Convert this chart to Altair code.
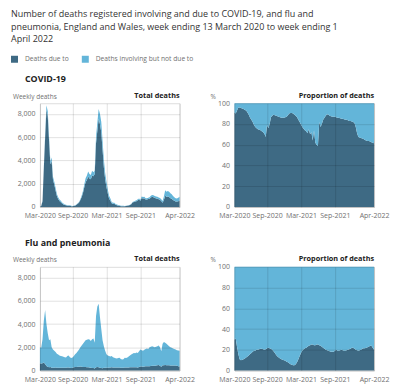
import altair as alt
import pandas as pd

# ---------------- data ----------------
first_week = "2020-03-13"          # week ending dates, weekly to 1 April 2022
tick_dates = [(2020, 3, 13), (2020, 9, 4), (2021, 3, 5), (2021, 9, 3), (2022, 4, 1)]
series_names = ["Deaths due to", "Deaths involving but not due to"]
series_colors = ["#3e6a84", "#63b5d9"]
sections = ["COVID-19", "Flu and pneumonia"]
panel_titles = ["Total deaths", "Proportion of deaths"]
axis_titles = ["Weekly deaths", "%"]

# COVID-19: weekly deaths involving COVID-19 (total) and % of them due to COVID-19
covid_total = [5, 103, 539, 3475, 6213, 8758, 8237, 6035, 3930, 4248,
               2589, 2166, 1653, 1114, 844, 652, 532, 393, 295, 217,
               193, 152, 139, 138, 101, 78, 99, 139, 215, 321,
               438, 670, 978, 1379, 1937, 2466, 2697, 3040, 2835, 2756,
               3120, 2986, 3144, 6057, 7245, 8433, 8009, 7320, 5691, 4079,
               2914, 2142, 1501, 963, 719, 438, 362, 362, 260, 209,
               165, 142, 107, 103, 98, 84, 103, 120, 145, 195,
               260, 418, 479, 536, 570, 660, 729, 611, 901, 851,
               871, 752, 749, 799, 840, 975, 1039, 1010, 949, 890,
               872, 819, 761, 662, 515, 900, 1438, 1316, 1364, 1305,
               1179, 1094, 943, 831, 759, 738, 800, 870]
covid_pct_due = [91, 90, 93, 96, 96, 95.5, 95, 94.5, 93.5, 93,
                 91, 89, 86, 84, 82, 79, 77, 76, 75, 74.5,
                 74, 73, 72, 70.5, 67.5, 79, 76, 80, 86.5, 88,
                 89, 88.5, 88, 87.5, 87, 86.5, 86, 86, 86, 86.5,
                 87, 88.5, 90, 90.5, 90.5, 90, 89, 88, 86.5, 84,
                 82, 79.5, 77, 75.5, 74, 73, 71, 75, 70, 72,
                 64, 74, 62, 60, 58.5, 82, 77, 80, 84, 86,
                 88, 89.5, 89, 88, 87.5, 87, 87, 87, 86.5, 86,
                 86, 85.5, 85, 85, 84.5, 84, 84, 83.5, 83, 83,
                 82.5, 82, 81, 77, 71, 67.5, 67, 66.5, 66, 65.5,
                 64.5, 64, 63.5, 63.5, 63, 62.5, 62, 61.5]

# Flu and pneumonia: weekly deaths involving flu/pneumonia and % due to it
flu_total = [2000, 1950, 2700, 4300, 5200, 4000, 3200, 2600, 2700, 2000,
             1800, 1700, 1600, 1450, 1380, 1300, 1250, 1220, 1180, 1150,
             1130, 1250, 1300, 1150, 1080, 1120, 1250, 1400, 1500, 1650,
             1800, 2000, 2150, 2300, 2450, 2600, 2650, 2700, 2680, 2550,
             2700, 2750, 2400, 4700, 5500, 5750, 4600, 3600, 2600, 2100,
             1700, 1400, 1300, 1250, 1200, 1250, 1150, 1100, 1050, 1030,
             1080, 1100, 1000, 950, 980, 1100, 1080, 1130, 1200, 1300,
             1380, 1450, 1500, 1480, 1550, 1500, 1650, 1800, 1750, 1700,
             1780, 1850, 1900, 1850, 2000, 2050, 2100, 2050, 2000, 2050,
             2100, 2150, 2000, 1650, 2300, 2450, 2400, 2300, 2200, 2100,
             2000, 1950, 1900, 1850, 1800, 1750, 1720, 1700]
flu_pct_due = [30, 31, 23, 16, 11, 10, 10.5, 11, 11.5, 12.5,
               13.5, 14.5, 16, 17, 18, 19, 19, 20, 20, 20.5,
               21, 21, 20.5, 20, 20.5, 21.5, 22, 21.5, 21, 20,
               18.5, 17, 15, 13.5, 12.5, 11.5, 11, 10.5, 10, 9.5,
               8.5, 8, 7, 6, 5.5, 5, 5, 6, 8, 11,
               14, 17, 19, 20.5, 21.5, 22, 23, 24, 24.5, 25,
               25, 24.5, 24.5, 25, 25, 24.5, 24, 23, 22, 21,
               20, 19.5, 19, 18.5, 18, 18, 18, 19, 20, 19,
               19, 19.5, 20, 19.5, 19, 19, 19.5, 20, 20.5, 21,
               22, 22, 21, 20, 19.5, 19, 19.5, 20, 21, 21.5,
               21.5, 22, 22.5, 23, 24, 24, 22, 20]

deaths_ticks = [0, 2000, 4000, 6000, 8000]
pct_ticks = [0, 20, 40, 60, 80, 100]

main_title = ["Number of deaths registered involving and due to COVID-19, and flu and",
              "pneumonia, England and Wales, week ending 13 March 2020 to week ending 1",
              "April 2022"]

# ---------------- tables ----------------
weeks = pd.date_range(first_week, periods=len(covid_total), freq="7D")


def make_df(total, pct):
    rows = []
    for d, t, p in zip(weeks, total, pct):
        due = t * p / 100.0
        rows.append({"date": d, "series": series_names[0], "order": 0,
                     "deaths": due, "share": p})
        rows.append({"date": d, "series": series_names[1], "order": 1,
                     "deaths": t - due, "share": 100 - p})
    return pd.DataFrame(rows)


covid_df = make_df(covid_total, covid_pct_due)
flu_df = make_df(flu_total, flu_pct_due)

FONT = "Open Sans"
LABEL = "#707070"
DARK = "#222222"
W, H = 140, 104

x_vals = [alt.DateTime(year=y, month=m, date=d) for y, m, d in tick_dates]

legend = alt.Legend(orient="none", legendX=-29, legendY=-48, direction="horizontal",
                    title=None, symbolType="square", symbolSize=49,
                    symbolStrokeWidth=0, symbolOpacity=1, labelFontSize=6.7,
                    labelColor=LABEL, labelFont=FONT, columnPadding=13,
                    labelOffset=7)


def area(df, field, ymax, yticks, yfmt):
    return alt.Chart(df).mark_area(opacity=1, interpolate="linear").encode(
        x=alt.X("date:T",
                scale=alt.Scale(domain=[x_vals[0], x_vals[-1]]),
                axis=alt.Axis(values=x_vals, format="%b-%Y", title=None,
                              labelOverlap=False, labelFlush=False, labelBound=False,
                              grid=True, ticks=False, tickSize=0, domain=False,
                              labelPadding=5, labelFontSize=7, labelColor=LABEL,
                              labelFont=FONT, gridColor="#000000", gridOpacity=0.12,
                              zindex=1)),
        y=alt.Y(f"{field}:Q", stack="zero",
                scale=alt.Scale(domain=[0, ymax], nice=False, zero=True),
                axis=alt.Axis(values=yticks, format=yfmt, title=None,
                              labelOverlap=False, labelFlush=False,
                              grid=True, ticks=False, tickSize=0, domain=False,
                              labelPadding=5, labelFontSize=7, labelColor=LABEL,
                              labelFont=FONT, gridColor="#000000", gridOpacity=0.12,
                              zindex=1)),
        color=alt.Color("series:N",
                        scale=alt.Scale(domain=series_names, range=series_colors),
                        legend=legend),
        order=alt.Order("order:Q", sort="ascending"),
    )


def label(text, x, y, align, size, weight, color):
    return alt.Chart(pd.DataFrame({"label": [text]})).mark_text(
        align=align, baseline="alphabetic", fontSize=size, fontWeight=weight,
        color=color, font=FONT
    ).encode(x=alt.value(x), y=alt.value(y), text="label:N")


def left_panel(df, name):
    return alt.layer(
        area(df, "deaths", 8920, deaths_ticks, ",d"),
        label(name, -15, -21, "left", 8.9, "bold", DARK),
        label(panel_titles[0], W, -5.5, "right", 7.3, "bold", DARK),
        label(axis_titles[0], -27, -4.5, "left", 6.5, "normal", LABEL),
    ).properties(width=W, height=H)


def right_panel(df):
    return alt.layer(
        area(df, "share", 100, pct_ticks, "d"),
        label(panel_titles[1], W, -5.5, "right", 7.3, "bold", DARK),
        label(axis_titles[1], -24, -4.5, "left", 6.5, "normal", LABEL),
    ).properties(width=W, height=H)


chart = alt.concat(
    left_panel(covid_df, sections[0]), right_panel(covid_df),
    left_panel(flu_df, sections[1]), right_panel(flu_df),
    columns=2, spacing={"row": 60, "column": 55}, bounds="flush",
).resolve_scale(x="independent", y="independent").properties(
    title=alt.TitleParams(main_title, anchor="start", frame="group", dx=-29,
                          offset=11, baseline="top", fontSize=9.0,
                          lineHeight=12.5, fontWeight="normal", color="#333333",
                          font=FONT),
    padding={"left": 3, "top": 2, "right": 2, "bottom": 0},
).configure_view(stroke=None).configure(font=FONT, background="white")

chart.save("out.html", embed_options={"renderer": "svg", "actions": False})
